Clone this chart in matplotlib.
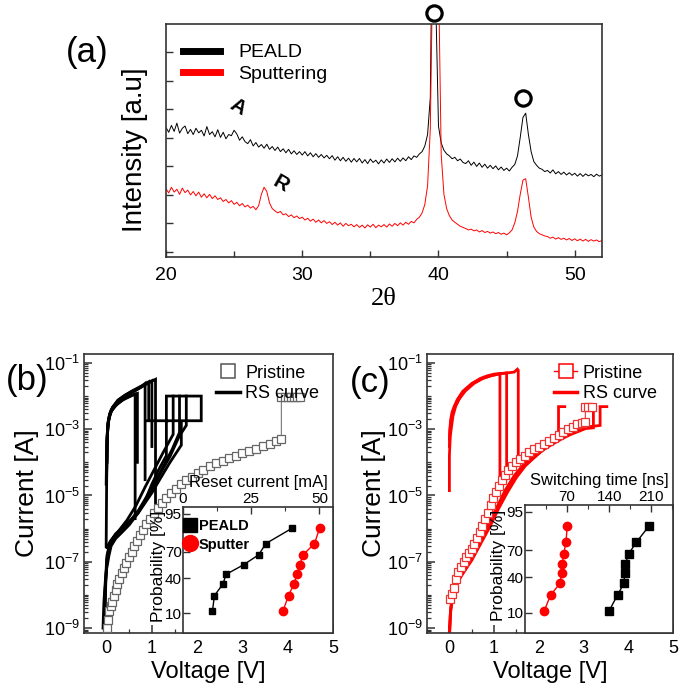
import numpy as np
import matplotlib
matplotlib.use("Agg")
import matplotlib.pyplot as plt
from matplotlib.ticker import FixedLocator, NullLocator, LogLocator, FuncFormatter, NullFormatter
from matplotlib.lines import Line2D
from statistics import NormalDist

plt.rcParams['font.family'] = ['Liberation Sans', 'DejaVu Sans']
plt.rcParams['mathtext.default'] = 'regular'

# ---------------- (a) XRD data ----------------
two_theta = np.round(np.arange(20.0, 52.001, 0.2), 1)
peald_xrd = [
    4.55, 4.38, 4.62, 4.41, 4.70, 4.35, 4.52, 4.60, 4.33, 4.48,
    4.30, 4.52, 4.36, 4.45, 4.25, 4.58, 4.30, 4.40, 4.22, 4.47,
    4.20, 4.38, 4.15, 4.30, 4.26, 4.45, 4.32, 4.10, 4.22, 4.05,
    3.98, 4.12, 3.90, 4.02, 3.86, 3.95, 3.82, 3.96, 3.78, 3.88,
    3.74, 3.86, 3.70, 3.80, 3.66, 3.78, 3.62, 3.73, 3.60, 3.70,
    3.58, 3.70, 3.55, 3.66, 3.52, 3.63, 3.50, 3.60, 3.48, 3.57,
    3.45, 3.56, 3.40, 3.52, 3.38, 3.50, 3.36, 3.47, 3.33, 3.46,
    3.34, 3.46, 3.30, 3.42, 3.28, 3.44, 3.32, 3.40, 3.27, 3.41,
    3.30, 3.44, 3.32, 3.45, 3.34, 3.47, 3.36, 3.48, 3.38, 3.52,
    3.42, 3.55, 3.50, 3.62, 3.70, 3.90, 4.30, 5.60, 14.0, 9.00,
    4.60, 4.00, 3.75, 3.62, 3.55, 3.45, 3.50, 3.38, 3.44, 3.32,
    3.28, 3.38, 3.22, 3.33, 3.18, 3.30, 3.15, 3.26, 3.12, 3.22,
    3.10, 3.20, 3.06, 3.16, 3.04, 3.12, 3.02, 3.15, 3.25, 3.55,
    4.20, 4.90, 5.05, 4.30, 3.70, 3.35, 3.22, 3.12, 3.08, 3.00,
    3.04, 2.95, 3.06, 2.92, 3.00, 2.90, 2.98, 2.88, 2.96, 2.87,
    2.94, 2.84, 2.93, 2.83, 2.92, 2.85, 2.90, 2.82, 2.91, 2.84,
    2.88]
sputter_xrd = [
    2.40, 2.25, 2.45, 2.28, 2.38, 2.20, 2.42, 2.26, 2.35, 2.18,
    2.30, 2.15, 2.28, 2.10, 2.22, 2.08, 2.20, 2.05, 2.15, 2.02,
    2.08, 1.95, 2.02, 1.90, 1.98, 1.85, 1.92, 1.80, 1.88, 1.76,
    1.82, 1.72, 1.78, 1.66, 1.80, 2.20, 2.45, 2.30, 1.90, 1.70,
    1.62, 1.55, 1.60, 1.48, 1.52, 1.42, 1.48, 1.38, 1.44, 1.35,
    1.40, 1.30, 1.36, 1.26, 1.33, 1.22, 1.30, 1.20, 1.28, 1.18,
    1.24, 1.14, 1.22, 1.12, 1.20, 1.08, 1.18, 1.10, 1.15, 1.06,
    1.14, 1.04, 1.12, 1.02, 1.13, 1.05, 1.15, 1.03, 1.12, 1.06,
    1.14, 1.05, 1.16, 1.08, 1.18, 1.10, 1.20, 1.12, 1.22, 1.15,
    1.25, 1.20, 1.32, 1.40, 1.55, 1.85, 2.50, 4.50, 11.0, 18.0,
    10.0, 3.60, 2.20, 1.70, 1.45, 1.30, 1.22, 1.15, 1.08, 1.04,
    1.00, 0.95, 0.98, 0.92, 0.95, 0.88, 0.93, 0.86, 0.90, 0.84,
    0.88, 0.82, 0.86, 0.80, 0.84, 0.78, 0.85, 0.95, 1.20, 1.60,
    2.20, 2.70, 2.75, 2.10, 1.40, 1.05, 0.90, 0.82, 0.78, 0.74,
    0.72, 0.66, 0.70, 0.63, 0.68, 0.62, 0.66, 0.60, 0.65, 0.58,
    0.64, 0.57, 0.63, 0.56, 0.62, 0.55, 0.61, 0.56, 0.60, 0.54,
    0.58]
ring_pos = [39.7, 46.2]
ring_height = [8.55, 5.57]
phase_labels = ['A', 'R']
phase_pos = [25.3, 28.4]
phase_height = [5.25, 2.55]

# ---------------- (b) PEALD I-V ----------------
pristine_b_v = [0.00, 0.03, 0.06, 0.09, 0.12, 0.16, 0.20, 0.24, 0.28, 0.33, 0.38, 0.43,
                0.49, 0.55, 0.61, 0.67, 0.74, 0.81, 0.88, 0.96, 1.04, 1.13, 1.22, 1.32,
                1.42, 1.53, 1.64, 1.76, 1.88, 2.01, 2.14, 2.28, 2.42, 2.56, 2.70, 2.85,
                3.00, 3.15, 3.30, 3.45, 3.60, 3.75, 3.86, 3.86, 3.93, 4.00, 4.07, 4.14,
                4.21, 4.28]
pristine_b_i = [1.0e-9, 1.8e-9, 3.2e-9, 4.5e-9, 6.3e-9, 9.5e-9, 1.4e-8, 2.1e-8, 3.0e-8,
                4.6e-8, 6.6e-8, 9.5e-8, 1.4e-7, 2.0e-7, 2.9e-7, 4.2e-7, 6.3e-7, 9.3e-7,
                1.35e-6, 2.0e-6, 2.9e-6, 4.2e-6, 6.0e-6, 8.5e-6, 1.2e-5, 1.6e-5, 2.2e-5,
                2.9e-5, 3.7e-5, 4.8e-5, 6.0e-5, 7.6e-5, 9.3e-5, 1.12e-4, 1.35e-4, 1.6e-4,
                1.9e-4, 2.2e-4, 2.6e-4, 3.1e-4, 3.6e-4, 4.3e-4, 5.2e-4, 9.5e-3, 9.5e-3,
                9.5e-3, 9.5e-3, 9.5e-3, 9.5e-3, 9.5e-3]
# each sweep of the resistive-switching curves
rs_b_v = [
    [-0.01, 0.0, 0.02, 0.05, 0.1, 0.16, 0.3, 0.45, 0.6, 0.75, 0.9, 1.08, 1.08],
    [-0.01, 0.0, 0.01, 0.03, 0.07, 0.13, 0.25, 0.4, 0.55, 0.7, 0.85, 1.0, 1.0],
    [0.0, 0.01, 0.03, 0.07, 0.13, 0.25, 0.4, 0.55, 0.7, 0.82, 0.93, 0.93],
    [0.0, 0.01, 0.03, 0.07, 0.13, 0.25, 0.4, 0.52, 0.63, 0.63],
    [0.01, 0.02, 0.05, 0.1, 0.2, 0.35, 0.5, 0.6, 0.68, 0.68],
    [0.0, 0.01, 0.04, 0.1, 0.2, 0.35, 0.5, 0.65, 0.78, 0.85, 0.85],
    [-0.08, -0.06, -0.03, 0.0, 0.05, 0.1, 0.2, 0.35, 0.5, 0.7, 0.85, 1.0, 1.15, 1.32, 1.32, 2.09, 2.09, 0.88],
    [-0.06, -0.04, 0.0, 0.05, 0.12, 0.25, 0.45, 0.65, 0.85, 1.05, 1.25, 1.47, 1.47],
    [-0.05, -0.03, 0.0, 0.06, 0.15, 0.3, 0.5, 0.7, 0.9, 1.1, 1.3, 1.45, 1.61, 1.61],
    [-0.04, -0.02, 0.01, 0.08, 0.2, 0.4, 0.6, 0.8, 1.0, 1.2, 1.4, 1.6, 1.76, 1.76],
    [0.0, 0.05, 0.1, 0.3, 0.5, 0.7, 0.85, 1.0, 1.2, 1.4, 1.65, 1.65],
]
rs_b_i = [
    [2.2e-5, 2e-4, 1.1e-3, 2.3e-3, 3.8e-3, 5e-3, 8e-3, 1.1e-2, 1.4e-2, 1.8e-2, 2.4e-2, 3.2e-2, 4e-6],
    [3e-7, 2e-5, 4e-4, 1.3e-3, 2.8e-3, 4.5e-3, 7.5e-3, 1.05e-2, 1.35e-2, 1.7e-2, 2.2e-2, 2.9e-2, 3e-4],
    [4e-5, 5e-4, 1.6e-3, 3e-3, 4.6e-3, 7.5e-3, 1.05e-2, 1.4e-2, 1.8e-2, 2.2e-2, 2.7e-2, 2e-3],
    [6e-5, 6e-4, 1.5e-3, 2.7e-3, 4e-3, 6e-3, 8.5e-3, 1.0e-2, 1.15e-2, 2e-6],
    [1e-4, 8e-4, 2e-3, 3.4e-3, 5.2e-3, 7.5e-3, 9.5e-3, 1.1e-2, 1.2e-2, 1e-4],
    [5e-5, 5e-4, 1.8e-3, 3.5e-3, 5.5e-3, 8.5e-3, 1.15e-2, 1.5e-2, 2e-2, 2.4e-2, 3e-5],
    [1e-9, 6e-9, 2.5e-8, 6e-8, 1.5e-7, 3e-7, 5e-7, 8e-7, 1.3e-6, 3e-6, 7e-6, 2.2e-5, 6e-5, 1.6e-4, 1e-2, 1e-2, 1.8e-3, 1.8e-3],
    [1e-9, 1e-8, 8e-8, 2.2e-7, 4.5e-7, 8e-7, 1.8e-6, 5e-6, 1.8e-5, 6e-5, 2e-4, 7e-4, 1e-2],
    [1e-9, 1.5e-8, 1.2e-7, 3e-7, 5.5e-7, 9e-7, 1.6e-6, 3.5e-6, 1e-5, 3e-5, 1e-4, 2.5e-4, 8e-4, 1e-2],
    [1e-9, 2e-8, 1.6e-7, 4e-7, 7e-7, 1.2e-6, 2.2e-6, 5e-6, 1.5e-5, 5e-5, 1.5e-4, 6e-4, 1.3e-3, 1e-2],
    [2.7e-7, 3.5e-7, 4.5e-7, 9e-7, 1.6e-6, 3e-6, 6e-6, 1.2e-5, 3.5e-5, 1e-4, 3.3e-4, 1.5e-3],
]
reset_current_peald = [10.8, 11.5, 14.6, 15.8, 22.2, 27.7, 30.4, 40.1]
reset_current_sputter = [36.6, 38.7, 40.6, 41.8, 42.8, 44.0, 48.2, 50.1]
probability = [11.1, 22.2, 33.3, 44.4, 55.6, 66.7, 77.8, 88.9]

# ---------------- (c) sputter I-V ----------------
pristine_c_v = [0.01, 0.06, 0.10, 0.15, 0.20, 0.26, 0.32, 0.38, 0.44, 0.50, 0.56, 0.62,
                0.68, 0.74, 0.80, 0.86, 0.92, 0.98, 1.04, 1.10, 1.17, 1.24, 1.32, 1.40,
                1.49, 1.58, 1.68, 1.78, 1.89, 2.00, 2.11, 2.22, 2.33, 2.44, 2.55, 2.66,
                2.76, 2.86, 2.96, 3.04, 3.04, 3.11, 3.18]
pristine_c_i = [7.6e-9, 1.1e-8, 1.6e-8, 3.0e-8, 4.8e-8, 7.1e-8, 1.0e-7, 1.35e-7, 1.8e-7,
                2.5e-7, 3.5e-7, 5.2e-7, 7.9e-7, 1.2e-6, 1.9e-6, 3.0e-6, 5.0e-6, 8.3e-6,
                1.3e-5, 2.0e-5, 3.0e-5, 4.2e-5, 5.8e-5, 7.6e-5, 1.0e-4, 1.26e-4, 1.6e-4,
                2.0e-4, 2.5e-4, 3.0e-4, 3.7e-4, 4.5e-4, 5.5e-4, 6.8e-4, 8.3e-4, 1.0e-3,
                1.2e-3, 1.4e-3, 1.5e-3, 1.6e-3, 4.8e-3, 4.8e-3, 4.8e-3]
rs_c_v = [
    [0.0, 0.0, 0.02, 0.04, 0.08, 0.14, 0.25, 0.39, 0.55, 0.69, 0.85, 1.0, 1.13, 1.13],
    [0.0, 0.01, 0.03, 0.07, 0.12, 0.2, 0.35, 0.55, 0.75, 0.95, 1.15, 1.28, 1.28],
    [0.0, 0.01, 0.03, 0.06, 0.11, 0.18, 0.3, 0.5, 0.7, 0.9, 1.1, 1.3, 1.45, 1.52, 1.54, 1.54],
    [0.0, 0.01, 0.03, 0.1, 0.2, 0.35, 0.5, 0.65, 0.8, 0.95, 1.1, 1.25, 1.45, 1.68, 1.9, 2.12, 2.3, 2.44, 2.44, 2.58],
    [0.0, 0.02, 0.05, 0.12, 0.25, 0.4, 0.6, 0.8, 1.0, 1.2, 1.4, 1.6, 1.8, 2.0, 2.2, 2.4, 2.6, 2.8, 3.0, 3.15, 3.37, 3.37, 3.52],
    [0.0, 0.03, 0.08, 0.15, 0.3, 0.5, 0.7, 0.9, 1.1, 1.3, 1.5, 1.7, 1.9, 2.1, 2.3, 2.5, 2.7, 2.9, 3.05, 3.22, 3.22],
]
rs_c_i = [
    [1.4e-5, 1.6e-4, 6e-4, 1.0e-3, 2.5e-3, 4.9e-3, 1.0e-2, 1.7e-2, 2.6e-2, 3.4e-2, 4.1e-2, 4.6e-2, 4.8e-2, 3.7e-5],
    [3e-4, 8e-4, 1.6e-3, 3.0e-3, 4.6e-3, 7.5e-3, 1.4e-2, 2.4e-2, 3.4e-2, 4.2e-2, 4.8e-2, 5.0e-2, 5.9e-5],
    [5e-4, 1.0e-3, 2.0e-3, 3.3e-3, 5e-3, 8e-3, 1.4e-2, 2.4e-2, 3.3e-2, 4.0e-2, 4.6e-2, 5.0e-2, 5.3e-2, 6.5e-2, 6.0e-2, 9.5e-5],
    [5e-10, 1.6e-9, 4e-9, 1.35e-8, 2.8e-8, 5.5e-8, 1.26e-7, 3.5e-7, 8.9e-7, 2.2e-6, 5.6e-6, 1.45e-5, 4e-5, 9.3e-5, 1.6e-4, 2.6e-4, 4.0e-4, 5.2e-4, 4.8e-3, 4.8e-3],
    [5e-10, 2.5e-9, 7e-9, 1.6e-8, 3.5e-8, 7.9e-8, 2.5e-7, 7.9e-7, 2.8e-6, 1e-5, 2.8e-5, 6.3e-5, 1.1e-4, 1.9e-4, 3.0e-4, 4.5e-4, 6.3e-4, 8.3e-4, 1.05e-3, 1.2e-3, 1.3e-3, 4.8e-3, 4.8e-3],
    [5e-10, 3.2e-9, 1e-8, 2e-8, 4.5e-8, 1.1e-7, 3.5e-7, 1.1e-6, 4e-6, 1.26e-5, 3.5e-5, 7.9e-5, 1.4e-4, 2.4e-4, 3.5e-4, 5e-4, 6.8e-4, 8.7e-4, 1.05e-3, 1.1e-3, 4.8e-3],
]
switch_time_peald = [139.9, 153.8, 164.3, 165.9, 167.0, 172.5, 185.3, 205.7]
switch_time_sputter = [32.1, 42.6, 58.1, 60.8, 62.0, 64.7, 68.0, 70.3]

SPINE = '#333333'
_nd = NormalDist()


def prob_fwd(p):
    p = np.clip(np.asarray(p, dtype=float) / 100.0, 1e-6, 1 - 1e-6)
    return np.vectorize(_nd.inv_cdf, otypes=[float])(p)


def prob_inv(z):
    return np.vectorize(_nd.cdf, otypes=[float])(np.asarray(z, dtype=float)) * 100.0


def style_spines(ax):
    for s in ax.spines.values():
        s.set_color(SPINE)
        s.set_linewidth(1.2)


def iv_axes(ax, ylabel_x):
    ax.set_yscale('log')
    ax.set_xlim(-0.5, 5)
    ax.set_ylim(10 ** -9.15, 10 ** -0.73)
    ax.yaxis.set_major_locator(FixedLocator([1e-9, 1e-7, 1e-5, 1e-3, 1e-1]))
    ax.yaxis.set_major_formatter(FuncFormatter(lambda v, _: '$10^{%d}$' % round(np.log10(v))))
    ax.yaxis.set_minor_locator(LogLocator(base=10, subs=np.arange(1, 10), numticks=30))
    ax.yaxis.set_minor_formatter(NullFormatter())
    ax.set_xticks([0, 1, 2, 3, 4, 5])
    ax.xaxis.set_minor_locator(FixedLocator(np.arange(-0.5, 5, 0.5)))
    ax.tick_params(which='both', direction='in', top=False, right=False, colors=SPINE,
                   labelcolor='black', labelsize=13)
    ax.tick_params(which='major', length=6, width=1.1)
    ax.tick_params(which='minor', length=3, width=0.9)
    ax.tick_params(axis='x', pad=5)
    ax.tick_params(axis='y', pad=3)
    ax.set_xlabel('Voltage [V]', fontsize=17)
    ax.set_ylabel('Current [A]', fontsize=19)
    ax.xaxis.set_label_coords(0.5, -0.1)
    ax.yaxis.set_label_coords(ylabel_x, 0.5)
    style_spines(ax)


def prob_inset(ax, xlim, major, minor, xlabel, ylabel_x):
    ax.set_facecolor('white')
    ax.set_yscale('function', functions=(prob_fwd, prob_inv))
    ax.set_ylim(3.1, 96.7)
    ax.yaxis.set_major_locator(FixedLocator([10, 40, 70, 95]))
    ax.yaxis.set_minor_locator(NullLocator())
    ax.yaxis.set_major_formatter(FuncFormatter(lambda v, _: '%d' % round(v)))
    ax.set_xlim(*xlim)
    ax.xaxis.tick_top()
    ax.xaxis.set_label_position('top')
    ax.xaxis.set_major_locator(FixedLocator(major))
    ax.xaxis.set_minor_locator(FixedLocator(minor))
    ax.tick_params(which='both', direction='in', bottom=False, right=False, colors=SPINE,
                   labelcolor='black', labelsize=11)
    ax.tick_params(which='major', length=5, width=1)
    ax.tick_params(which='minor', length=3, width=0.8)
    ax.tick_params(axis='x', pad=1)
    ax.tick_params(axis='y', pad=1)
    ax.set_xlabel(xlabel, fontsize=12, labelpad=3)
    ax.set_ylabel('Probability [%]', fontsize=12.5)
    ax.yaxis.set_label_coords(ylabel_x, 0.53)
    style_spines(ax)


fig = plt.figure(figsize=(6.85, 6.96), dpi=100)

# ---------------- panel (a) ----------------
ax_a = fig.add_axes([0.2423, 0.6307, 0.6365, 0.3348])
ax_a.plot(two_theta, peald_xrd, color='black', lw=0.7)
ax_a.plot(two_theta, sputter_xrd, color='red', lw=0.7)
ax_a.set_xlim(20, 52)
ax_a.set_ylim(0, 8.18)
ax_a.set_yticks(np.arange(0.18, 8.0, 1.0))
ax_a.set_yticklabels([])
ax_a.set_xticks([20, 30, 40, 50])
ax_a.xaxis.set_minor_locator(FixedLocator([25, 35, 45]))
ax_a.tick_params(which='both', direction='in', top=False, right=False, colors=SPINE,
                 labelcolor='black', labelsize=14)
ax_a.tick_params(which='major', length=5, width=1)
ax_a.tick_params(which='minor', length=4, width=1)
ax_a.tick_params(axis='x', pad=7)
style_spines(ax_a)
ax_a.set_xlabel('2θ', fontsize=19, family='Liberation Serif')
ax_a.xaxis.set_label_coords(0.5, -0.135)
ax_a.set_ylabel('Intensity [a.u]', fontsize=20)
ax_a.yaxis.set_label_coords(-0.041, 0.46)
ax_a.plot(ring_pos, ring_height, 'o', ms=11, mfc='white', mec='black', mew=2.3,
          clip_on=False, linestyle='none')
for lab, xp, yp in zip(phase_labels, phase_pos, phase_height):
    ax_a.text(xp, yp, lab, fontsize=15, fontweight='bold', rotation=-30,
              ha='center', va='center')
ax_a.legend([Line2D([], [], color='black', lw=5), Line2D([], [], color='red', lw=5)],
            ['PEALD', 'Sputtering'], loc='upper left', bbox_to_anchor=(0.0, 0.99),
            frameon=False, fontsize=14, handlelength=1.9, handletextpad=0.9,
            labelspacing=0.2)
fig.text(0.128, 0.924, '(a)', fontsize=25, ha='center', va='center')

# ---------------- panel (b) ----------------
ax_b = fig.add_axes([0.1226, 0.0905, 0.3635, 0.4009])
for vv, ii in zip(rs_b_v, rs_b_i):
    ax_b.plot(vv, ii, color='black', lw=2.0, solid_joinstyle='miter', zorder=2)
ax_b.plot(pristine_b_v, pristine_b_i, color='#777777', lw=0.8, marker='s', ms=5.5,
          mfc='white', mec='#666666', mew=0.9, zorder=3)
iv_axes(ax_b, -0.18)
ax_b.legend([Line2D([], [], ls='none', marker='s', ms=10, mfc='white', mec='#555555', mew=1.1),
             Line2D([], [], color='black', lw=2.5)],
            ['Pristine', 'RS curve'], loc='upper right', bbox_to_anchor=(1.01, 1.02),
            frameon=False, fontsize=13, handlelength=1.3, handletextpad=0.3, labelspacing=0.2)
fig.text(0.039, 0.454, '(b)', fontsize=25, ha='center', va='center')

ins_b = fig.add_axes([0.2672, 0.0905, 0.2190, 0.181])
ins_b.plot(reset_current_peald, probability, '-s', color='black', ms=5, lw=1)
ins_b.plot(reset_current_sputter, probability, '-o', color='red', ms=6, lw=1)
prob_inset(ins_b, (0, 55), [0, 25, 50], [12.5, 37.5], 'Reset current [mA]', -0.115)
ins_b.legend([Line2D([], [], ls='none', marker='s', ms=10, color='black'),
              Line2D([], [], ls='none', marker='o', ms=11.5, color='red')],
             ['PEALD', 'Sputter'], loc='upper left', bbox_to_anchor=(-0.035, 0.95),
             frameon=False, prop={'weight': 'bold', 'size': 10.5}, handlelength=0.9,
             handletextpad=0.15, labelspacing=0.3, borderaxespad=0)

# ---------------- panel (c) ----------------
ax_c = fig.add_axes([0.6234, 0.0905, 0.3591, 0.4009])
for vv, ii in zip(rs_c_v, rs_c_i):
    ax_c.plot(vv, ii, color='red', lw=2.0, solid_joinstyle='miter', zorder=2)
ax_c.plot(pristine_c_v, pristine_c_i, color='#ee3333', lw=0.8, marker='s', ms=6,
          mfc='white', mec='#ee3333', mew=0.9, zorder=3)
iv_axes(ax_c, -0.167)
ax_c.legend([Line2D([], [], color='red', lw=1, marker='s', ms=10, mfc='white', mec='red', mew=1.1),
             Line2D([], [], color='red', lw=2.5)],
            ['Pristine', 'RS curve'], loc='upper right', bbox_to_anchor=(1.0, 1.02),
            frameon=False, fontsize=13, handlelength=1.3, handletextpad=0.3, labelspacing=0.2)
fig.text(0.540, 0.451, '(c)', fontsize=25, ha='center', va='center')

ins_c = fig.add_axes([0.7664, 0.0905, 0.2161, 0.1839])
ins_c.plot(switch_time_sputter, probability, '-o', color='red', ms=6, lw=1)
ins_c.plot(switch_time_peald, probability, '-s', color='black', ms=5.5, lw=1)
prob_inset(ins_c, (0, 246), [70, 140, 210], [35, 105, 175, 245], 'Switching time [ns]', -0.125)

fig.savefig('out.png', dpi=100)
